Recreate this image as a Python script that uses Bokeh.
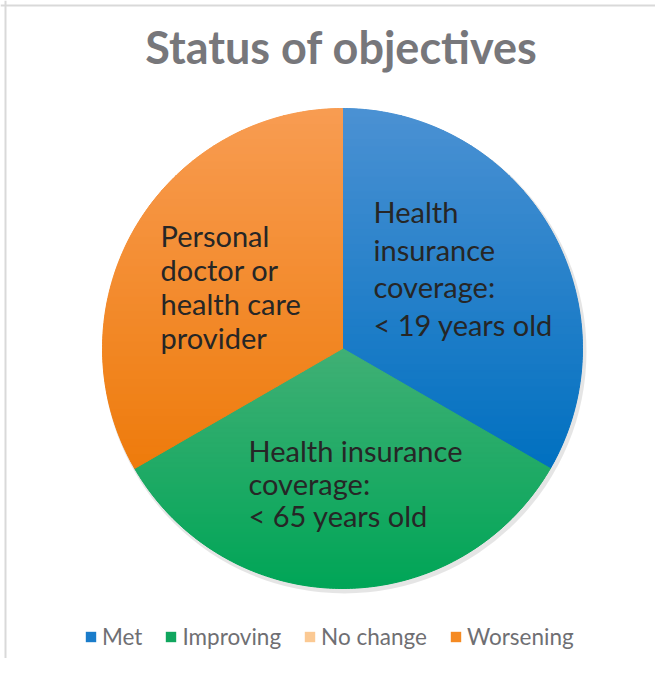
from bokeh.plotting import figure
from bokeh.models import ColumnDataSource, Range1d, Legend, LegendItem, Span, Label
from bokeh.core.properties import value
from bokeh.embed import file_html
from bokeh.resources import INLINE
import numpy as np

# ---- data ----
categories = ["Met", "Improving", "No change", "Worsening"]
counts = [1, 1, 0, 1]
colors = ["#1a7cca", "#10a65e", "#fbc993", "#f58a22"]
grad_top = ["#4b91d3", "#40b075", "#fcd3a6", "#f89c52"]
grad_bottom = ["#0070c0", "#00a557", "#f8b878", "#ee7b0b"]
slice_labels = [
    ["Health", "insurance", "coverage:", "< 19 years old"],
    ["Health insurance", "coverage:", "< 65 years old"],
    [],
    ["Personal", "doctor or", "health care", "provider"],
]
title_text = "Status of objectives"

# ---- layout ----
W, H = 655, 658
cx, cy, R = 342, H - 348, 240
FONT = "Lato"

p = figure(width=W, height=H, x_range=Range1d(0, W), y_range=Range1d(0, H),
           x_axis_type=None, y_axis_type=None, toolbar_location=None,
           output_backend="svg", min_border=0, outline_line_color=None,
           background_fill_color="white", border_fill_color="white")
p.grid.visible = False

total = sum(counts)
fracs = np.array(counts) / total
# clockwise from 12 o'clock
ends = np.pi / 2 - 2 * np.pi * np.cumsum(fracs)
starts = np.concatenate([[np.pi / 2], ends[:-1]])
radii = [R if c > 0 else 0 for c in counts]

src = ColumnDataSource(dict(cat=categories, start=ends, end=starts, color=colors,
                            radius=radii, x=[cx] * 4, y=[cy] * 4))

# soft shadow
p.circle(x=[cx + 2], y=[cy - 3], radius=R + 2, fill_color="#000000", fill_alpha=0.10, line_color=None)
r = p.wedge(x="x", y="y", radius="radius", start_angle="start", end_angle="end",
            fill_color="color", line_color=None, source=src)


# vertical gradient overlay: wedge polygons clipped into horizontal bands
def hex2rgb(h):
    return np.array([int(h[i:i + 2], 16) for i in (1, 3, 5)], float)


def clip(poly, y0, keep_above):
    out = []
    n = len(poly)
    for i in range(n):
        a, b = poly[i], poly[(i + 1) % n]
        ina = a[1] >= y0 if keep_above else a[1] <= y0
        inb = b[1] >= y0 if keep_above else b[1] <= y0
        if ina:
            out.append(a)
        if ina != inb:
            t = (y0 - a[1]) / (b[1] - a[1])
            out.append((a[0] + t * (b[0] - a[0]), y0))
    return out


bx, by, bc = [], [], []
NB = 48
for i, c in enumerate(counts):
    if c == 0:
        continue
    angs = np.linspace(starts[i], ends[i], 160)
    poly = [(cx, cy)] + [(cx + R * np.cos(a), cy + R * np.sin(a)) for a in angs]
    ys = [q[1] for q in poly]
    ymin, ymax = min(ys), max(ys)
    t_rgb, b_rgb = hex2rgb(grad_top[i]), hex2rgb(grad_bottom[i])
    edges = np.linspace(ymin, ymax, NB + 1)
    for k in range(NB):
        piece = clip(clip(poly, edges[k], True), edges[k + 1], False)
        if len(piece) < 3:
            continue
        f = (ymax - (edges[k] + edges[k + 1]) / 2) / (ymax - ymin)
        rgb = t_rgb + (b_rgb - t_rgb) * f
        bx.append([q[0] for q in piece])
        by.append([q[1] for q in piece])
        bc.append("#%02x%02x%02x" % tuple(int(round(v)) for v in rgb))
p.patches(xs=bx, ys=by, fill_color=bc, line_color=bc, line_width=1)

# slice labels
line_h = {0: 37.7, 1: 32.5, 3: 34}
block_off = {0: (31, 137), 1: (-94, -102), 3: (-182, 113)}
for i, lines in enumerate(slice_labels):
    if not lines:
        continue
    ox, oy = block_off[i]
    xs = [cx + ox] * len(lines)
    ys = [cy + oy - k * line_h[i] for k in range(len(lines))]
    p.text(x=xs, y=ys, text=lines, text_font=value(FONT), text_font_size="29px",
           text_color="#262626", text_align="left", text_baseline="alphabetic")

# title
p.add_layout(Label(x=341, y=H - 46, x_units="screen", y_units="screen", text=title_text,
                   text_font=FONT, text_font_size="45px", text_font_style="bold",
                   text_color="#77777b", text_align="center", text_baseline="alphabetic"))

# border (top & left)
p.add_layout(Span(location=5, dimension="height", line_color="#d9d9d9", line_width=2))
p.add_layout(Span(location=H - 5, dimension="width", line_color="#d9d9d9", line_width=2))

legend = Legend(items=[LegendItem(label=c, renderers=[r], index=i) for i, c in enumerate(categories)],
                orientation="horizontal", location=(84, 8), border_line_color=None,
                background_fill_alpha=0, glyph_width=13, glyph_height=13, label_standoff=5,
                spacing=22, label_text_font=FONT, label_text_font_size="22.5px",
                label_text_color="#6f6f73", padding=0, margin=0)
p.add_layout(legend, "center")

open("out.html", "w").write(file_html(p, INLINE))
